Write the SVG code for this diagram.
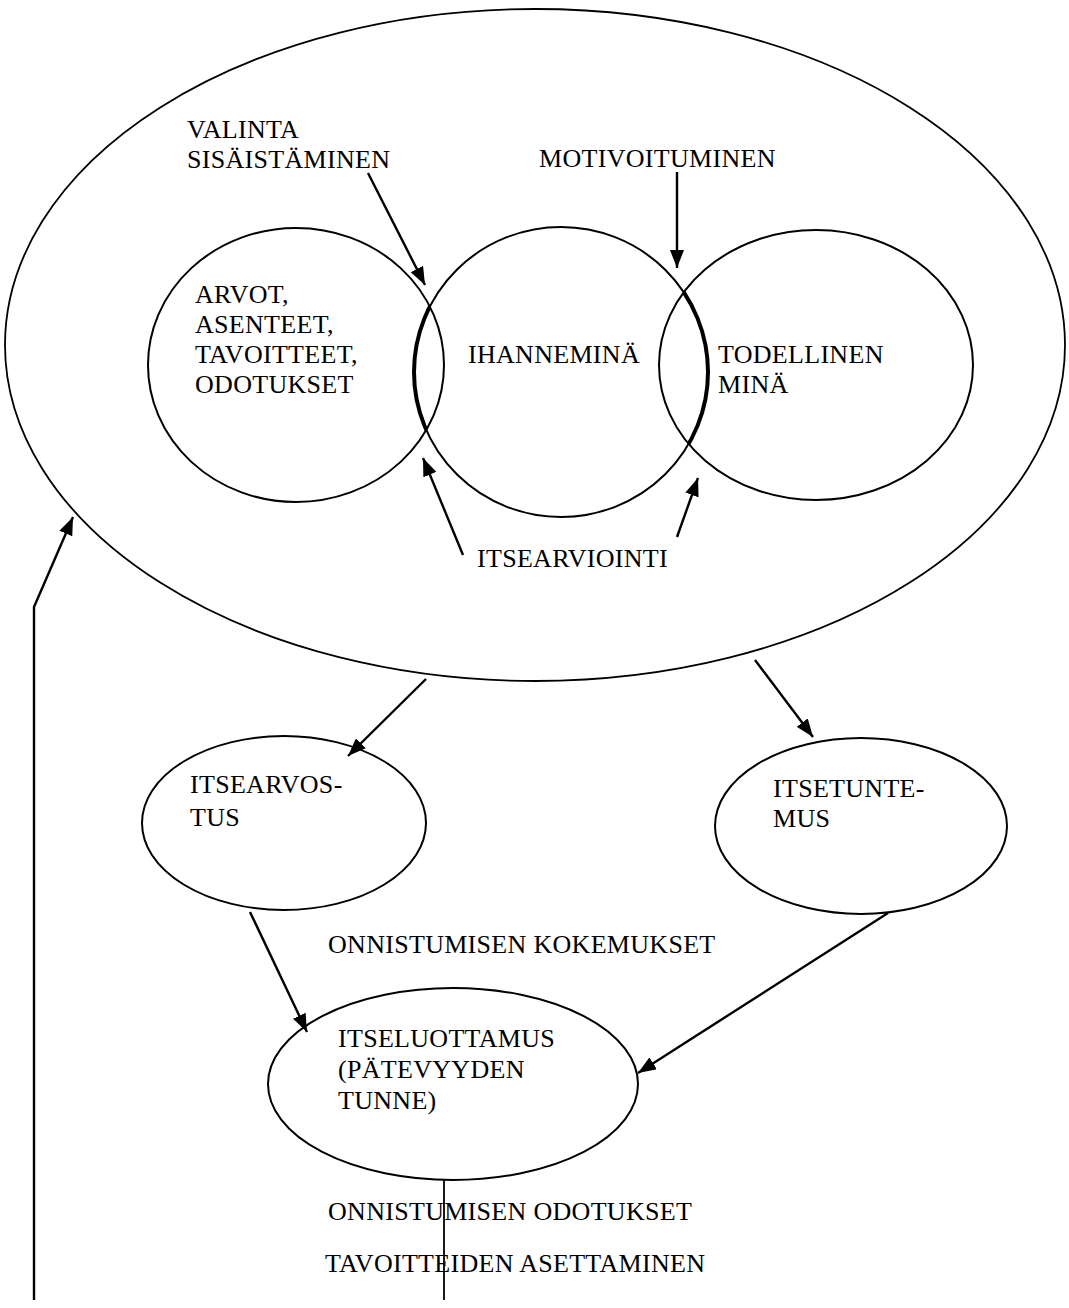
<svg xmlns="http://www.w3.org/2000/svg" width="1069" height="1308" viewBox="0 0 1069 1308">
<style>
.shape{fill:none;stroke:#000;stroke-width:2}
.outer{fill:none;stroke:#000;stroke-width:1.8}
.lens{fill:none;stroke:#000;stroke-width:4}
.conn{fill:none;stroke:#000;stroke-width:2.4}
.line{fill:none;stroke:#000;stroke-width:1.8}
text{font-family:"Liberation Serif","Times New Roman",serif;font-size:26px;fill:#000;letter-spacing:0.3px}
</style>
<defs>
<marker id="ah" viewBox="0 0 18 14" refX="18" refY="7" markerWidth="18" markerHeight="14" markerUnits="userSpaceOnUse" orient="auto">
<path d="M0,0 L18,7 L0,14 z" fill="#000"/>
</marker>
<clipPath id="lensclip">
<ellipse cx="296" cy="365" rx="148" ry="137"/>
<ellipse cx="816" cy="365" rx="157" ry="135"/>
</clipPath>
</defs>
<rect width="1069" height="1308" fill="#fff"/>

<g id="outer">
<ellipse class="outer" cx="535" cy="345" rx="530" ry="336"/>
</g>
<g id="arvot">
<ellipse class="shape" cx="296" cy="365" rx="148" ry="137"/>
<text x="195" y="303">ARVOT,</text>
<text x="195" y="333">ASENTEET,</text>
<text x="195" y="363">TAVOITTEET,</text>
<text x="195" y="393">ODOTUKSET</text>
</g>
<g id="ihanneminä">
<ellipse class="shape" cx="561" cy="372" rx="147" ry="145"/>
<ellipse class="lens" cx="561" cy="372" rx="147" ry="145" clip-path="url(#lensclip)"/>
<text x="468" y="363">IHANNEMINÄ</text>
</g>
<g id="todellinen">
<ellipse class="shape" cx="816" cy="365" rx="157" ry="135"/>
<text x="718" y="363">TODELLINEN</text>
<text x="718" y="393">MINÄ</text>
</g>
<g id="labels">
<text x="187" y="138">VALINTA</text>
<text x="187" y="168">SISÄISTÄMINEN</text>
<text x="539" y="167">MOTIVOITUMINEN</text>
<text x="477" y="567">ITSEARVIOINTI</text>
<text x="328" y="953">ONNISTUMISEN KOKEMUKSET</text>
<text x="328" y="1220">ONNISTUMISEN ODOTUKSET</text>
<text x="325" y="1272">TAVOITTEIDEN ASETTAMINEN</text>
</g>
<g id="itsearvostus">
<ellipse class="shape" cx="284" cy="823" rx="142" ry="87"/>
<text x="190" y="793">ITSEARVOS-</text>
<text x="190" y="826">TUS</text>
</g>
<g id="itsetuntemus">
<ellipse class="shape" cx="861" cy="826" rx="146" ry="88"/>
<text x="773" y="797">ITSETUNTE-</text>
<text x="773" y="827">MUS</text>
</g>
<g id="itseluottamus">
<ellipse class="shape" cx="453" cy="1084" rx="185" ry="96"/>
<text x="338" y="1047">ITSELUOTTAMUS</text>
<text x="338" y="1078">(PÄTEVYYDEN</text>
<text x="338" y="1109">TUNNE)</text>
</g>
<g id="connectors">
<path class="conn" d="M368,173 L425,285" marker-end="url(#ah)"/>
<path class="conn" d="M677,172 L677,268" marker-end="url(#ah)"/>
<path class="conn" d="M463,555 L423,458" marker-end="url(#ah)"/>
<path class="conn" d="M677,537 L698,478" marker-end="url(#ah)"/>
<path class="conn" d="M34,1300 L34,607 L73,517" marker-end="url(#ah)"/>
<path class="conn" d="M426,679 L348,756" marker-end="url(#ah)"/>
<path class="conn" d="M755,660 L813,737" marker-end="url(#ah)"/>
<path class="conn" d="M250,912 L307,1032" marker-end="url(#ah)"/>
<path class="conn" d="M888,913 L638,1073" marker-end="url(#ah)"/>
<path class="line" d="M444,1180 L444,1300"/>
</g>
</svg>
